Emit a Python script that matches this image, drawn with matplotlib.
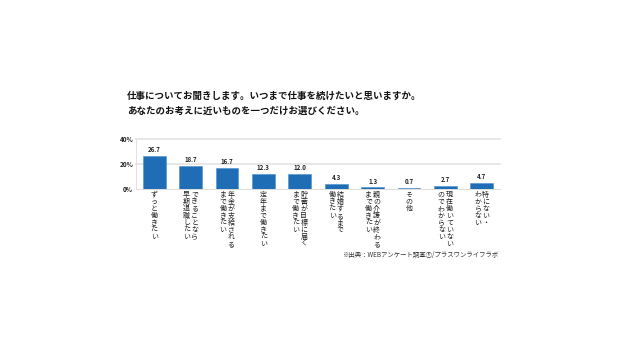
import matplotlib
matplotlib.use("Agg")
import matplotlib.pyplot as plt

plt.rcParams['font.family'] = ['Noto Sans CJK JP', 'DejaVu Sans']

# Data
categories = [
    ["ずっと働きたい"],
    ["できることなら", "早期退職したい"],
    ["年金が支給される", "まで働きたい"],
    ["定年まで働きたい"],
    ["貯蓄が目標に届く", "まで働きたい"],
    ["結婚するまで", "働きたい"],
    ["親の介護が終わる", "まで働きたい"],
    ["その他"],
    ["現在働いていない", "のでわからない"],
    ["特にない・", "わからない"],
]
values = [26.7, 18.7, 16.7, 12.3, 12.0, 4.3, 1.3, 0.7, 2.7, 4.7]
yticks = [0, 20, 40]
ytick_labels = ["0%", "20%", "40%"]
title_lines = ["仕事についてお聞きします。いつまで仕事を続けたいと思いますか。",
               "あなたのお考えに近いものを一つだけお選びください。"]
source = "※出典：WEBアンケート調査①/プラスワンライフラボ"

fig = plt.figure(figsize=(6.4, 3.6), dpi=100)
fig.patch.set_facecolor('white')
ax = fig.add_axes([136/640, 1-189/360, 364/640, 50/360])

x = list(range(len(values)))
ax.bar(x, values, width=0.63, color='#1f6eb5', edgecolor='#4a8fd0', linewidth=0.4, zorder=3)
ax.set_xlim(-0.5, len(values)-0.5)
ax.set_ylim(0, 40)
ax.set_yticks(yticks)
ax.set_yticklabels(ytick_labels, fontsize=4.6, color='#222222', fontweight='bold')
ax.tick_params(axis='y', length=0, pad=2)
ax.set_xticks([])
for y in yticks[1:]:
    ax.axhline(y, color='#e3e3e3', linewidth=1.2, zorder=1, clip_on=False)
for s in ['top', 'right']:
    ax.spines[s].set_visible(False)
ax.spines['left'].set_color('#dddddd')
ax.spines['left'].set_linewidth(0.6)
ax.spines['bottom'].set_color('#dddddd')
ax.spines['bottom'].set_linewidth(0.8)

for xi, v in zip(x, values):
    ax.annotate(f"{v:.1f}", xy=(xi, v), xytext=(0, 2), textcoords='offset points',
                ha='center', va='bottom', fontsize=4.4, color='#222222', fontweight='bold')

# vertical category labels (columns right to left)
for xi, cols in zip(x, categories):
    n = len(cols)
    spacing = 5.8  # points between column centres
    for j, col in enumerate(cols):
        off = (n - 1) / 2 * spacing - j * spacing
        ax.annotate("\n".join(col), xy=(xi, 0), xycoords=('data', 'axes fraction'),
                    xytext=(off, -1.2), textcoords='offset points',
                    ha='center', va='top', fontsize=5.0, color='#222222',
                    linespacing=0.84, annotation_clip=False)

fig.text(127/640, 1-96/360, title_lines[0], fontsize=6.8, fontweight='bold',
         ha='left', va='center', color='#111111')
fig.text(127/640, 1-111/360, title_lines[1], fontsize=6.8, fontweight='bold',
         ha='left', va='center', color='#111111')
fig.text(498/640, 1-255/360, source, fontsize=4.6, ha='right', va='center', color='#333333')

fig.savefig("out.png", dpi=100, facecolor='white')
